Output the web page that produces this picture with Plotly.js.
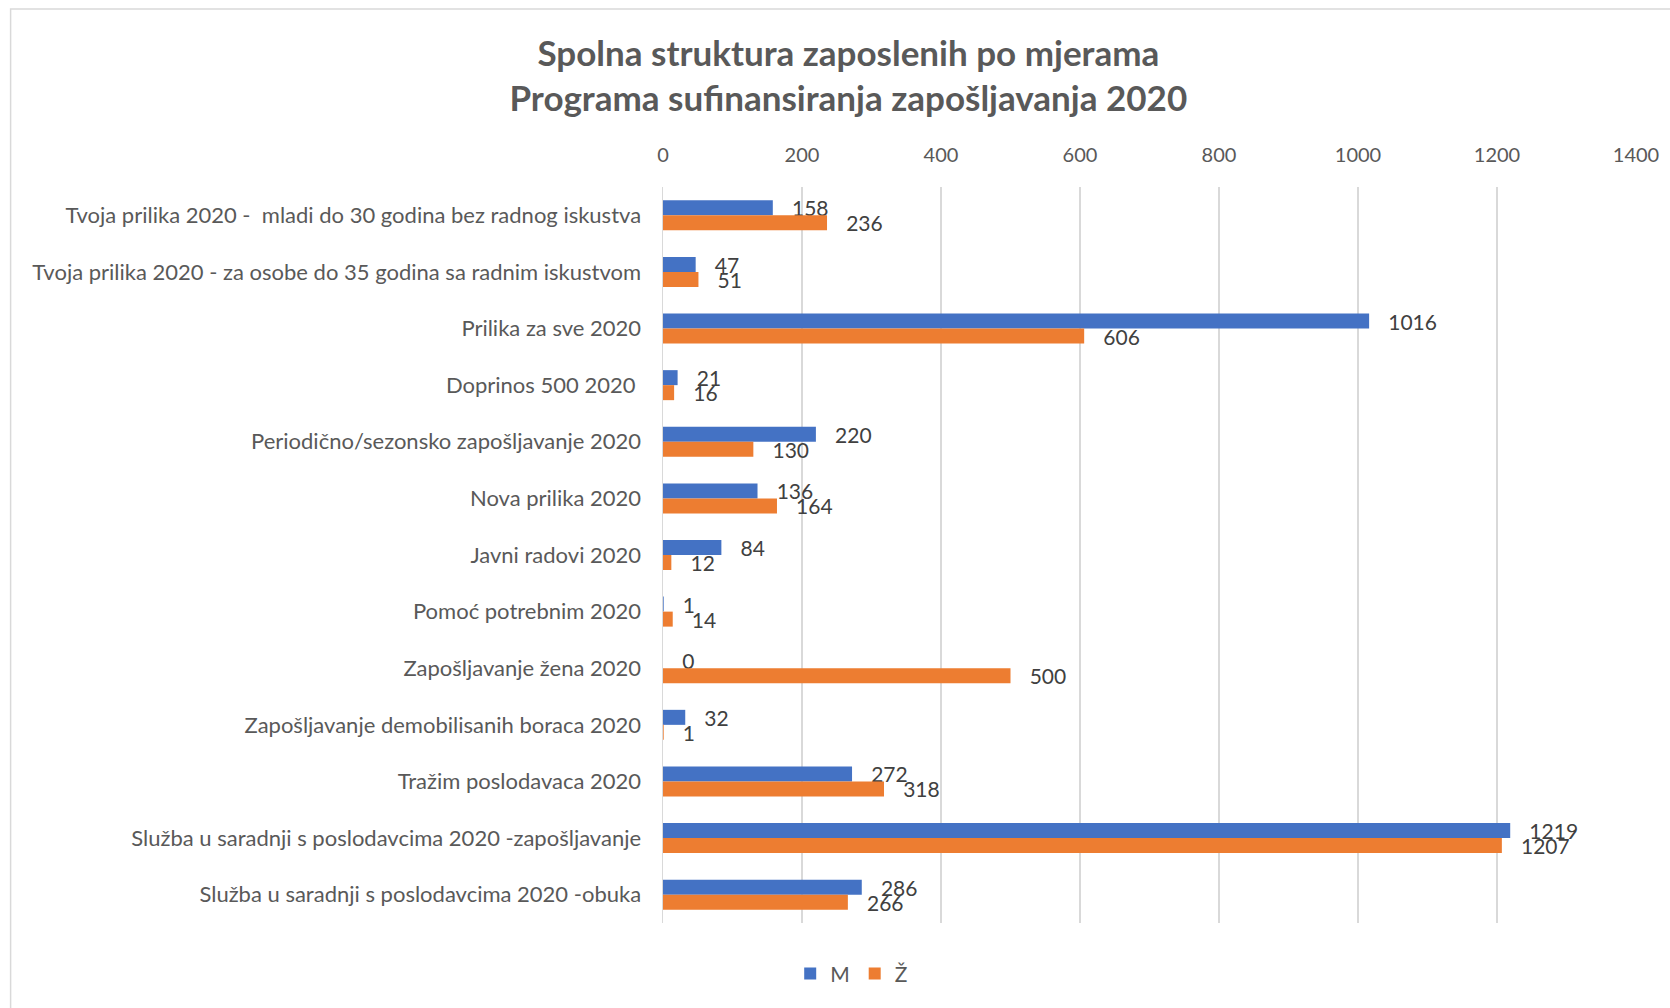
<!DOCTYPE html>
<html>
<head>
<meta charset="utf-8">
<script src="https://cdn.plot.ly/plotly-3.0.1.min.js"></script>
<style>
html,body{margin:0;padding:0;background:#fff;}
#chart{width:1670px;height:1008px;}
</style>
</head>
<body>
<div id="chart"></div>
<script>
const categories = [
  "Tvoja prilika 2020 -  mladi do 30 godina bez radnog iskustva",
  "Tvoja prilika 2020 - za osobe do 35 godina sa radnim iskustvom",
  "Prilika za sve 2020",
  "Doprinos 500 2020 ",
  "Periodično/sezonsko zapošljavanje 2020",
  "Nova prilika 2020",
  "Javni radovi 2020",
  "Pomoć potrebnim 2020",
  "Zapošljavanje žena 2020",
  "Zapošljavanje demobilisanih boraca 2020",
  "Tražim poslodavaca 2020",
  "Služba u saradnji s poslodavcima 2020 -zapošljavanje",
  "Služba u saradnji s poslodavcima 2020 -obuka"
];
const valuesM = [158, 47, 1016, 21, 220, 136, 84, 1, 0, 32, 272, 1219, 286];
const valuesZ = [236, 51, 606, 16, 130, 164, 12, 14, 500, 1, 318, 1207, 266];
const seriesNames = ["M", "Ž"];
const xTicks = [0, 200, 400, 600, 800, 1000, 1200, 1400];
const chartTitle = "Spolna struktura zaposlenih po mjerama<br>Programa sufinansiranja zapošljavanja 2020";

const FONT = "Lato, 'Open Sans', 'Liberation Sans', sans-serif";
const pad = "\u00a0\u00a0\u00a0";

function barTrace(name, vals, color) {
  return {
    type: "bar",
    orientation: "h",
    name: name,
    y: categories,
    x: vals,
    marker: {color: color},
    text: vals.map(v => pad + v),
    textposition: "outside",
    constraintext: "none",
    cliponaxis: false,
    textfont: {family: FONT, size: 21, color: "#404040"},
    hoverinfo: "x+name"
  };
}

const data = [
  barTrace(seriesNames[0], valuesM, "#4472C4"),
  barTrace(seriesNames[1], valuesZ, "#ED7D31")
];

const layout = {
  width: 1670,
  height: 1008,
  paper_bgcolor: "#ffffff",
  plot_bgcolor: "#ffffff",
  margin: {l: 663, r: 34, t: 187, b: 85},
  barmode: "group",
  bargap: 0.47,
  bargroupgap: 0,
  font: {family: FONT, color: "#595959"},
  title: {
    text: chartTitle,
    font: {family: FONT, size: 35, color: "#595959", weight: "bold"},
    x: 0.508,
    xanchor: "center",
    xref: "container",
    y: 0.935,
    yanchor: "top",
    yref: "container"
  },
  xaxis: {
    side: "top",
    range: [0, 1400],
    tickvals: xTicks,
    ticktext: xTicks.map(String),
    showgrid: true,
    gridcolor: "#d9d9d9",
    gridwidth: 1.5,
    zeroline: false,
    showline: false,
    ticks: "outside",
    ticklen: 16,
    tickcolor: "rgba(0,0,0,0)",
    tickfont: {family: FONT, size: 20, color: "#595959"},
    fixedrange: true
  },
  yaxis: {
    autorange: "reversed",
    type: "category",
    showgrid: false,
    zeroline: false,
    showline: true,
    linecolor: "#d9d9d9",
    linewidth: 1.5,
    ticks: "outside",
    ticklen: 16,
    tickcolor: "rgba(0,0,0,0)",
    tickfont: {family: FONT, size: 22, color: "#595959"},
    fixedrange: true
  },
  legend: {
    orientation: "h",
    xref: "container",
    yref: "container",
    x: 0.51,
    xanchor: "center",
    y: 0.034,
    yanchor: "middle",
    font: {family: FONT, size: 21, color: "#595959"},
    itemwidth: 30,
    traceorder: "normal"
  },
  shapes: [{
    type: "rect",
    xref: "paper",
    yref: "paper",
    x0: -0.6705, x1: 1.05,
    y0: -0.13, y1: 1.2418,
    line: {color: "#d9d9d9", width: 1.5},
    fillcolor: "rgba(0,0,0,0)",
    layer: "below"
  }],
  showlegend: true
};

Plotly.newPlot("chart", data, layout, {displayModeBar: false, staticPlot: true});
</script>
</body>
</html>
